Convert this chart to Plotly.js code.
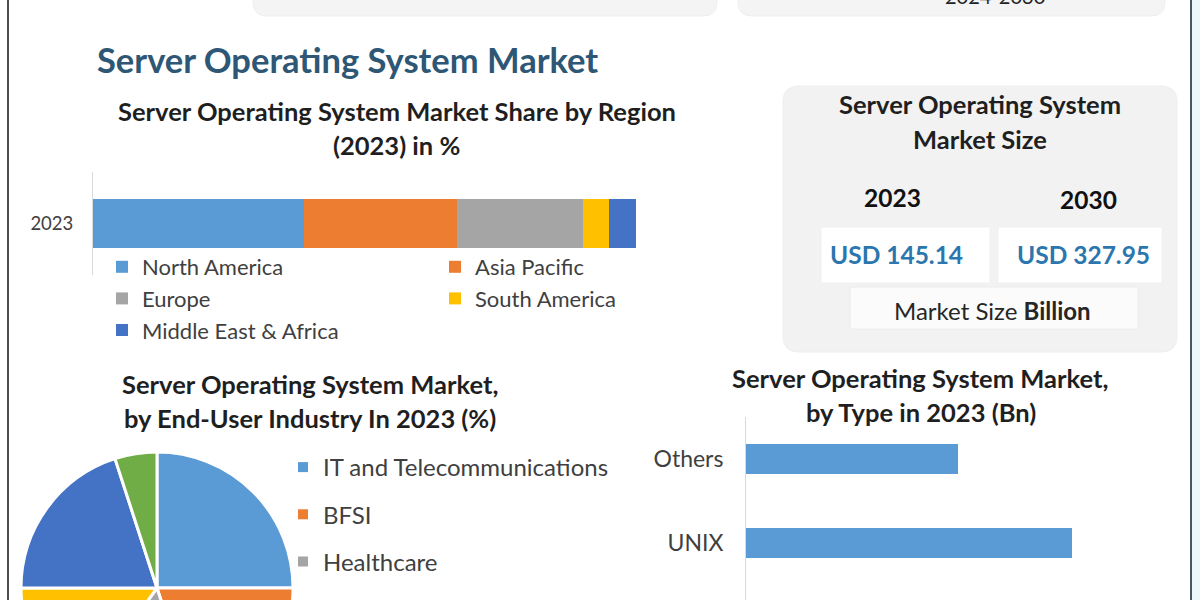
<!DOCTYPE html>
<html>
<head>
<meta charset="utf-8">
<script src="https://cdn.plot.ly/plotly-3.0.1.min.js"></script>
<style>
html,body{margin:0;padding:0;background:#fff;overflow:hidden;}
#wrap{position:relative;width:1200px;height:600px;overflow:hidden;}
#plot{position:absolute;left:0;top:-60px;width:1200px;height:900px;}
</style>
</head>
<body>
<div id="wrap"><div id="plot"></div></div>
<script>
// ---------------- data ----------------
const regionYear = ['2023'];
const regions = ['North America', 'Asia Pacific', 'Europe', 'South America', 'Middle East & Africa'];
const regionShare = [38.9, 28.2, 23.2, 4.8, 4.9];

const industries = ['IT and Telecommunications', 'BFSI', 'Healthcare', 'Government', 'Retail', 'Others'];
const industryShare = [25, 20, 15, 15, 20, 5];

const osTypes = ['Others', 'UNIX', 'Linux', 'Windows'];
const osValues = [27.6, 42.5, 35.04, 40.0];

const marketYears = ['2023', '2030'];
const marketSize = [145.14, 327.95];
const forecastPeriod = '2024-2030';

// ---------------- styles ----------------
const regionColors = ['#5B9BD5', '#ED7D31', '#A5A5A5', '#FFC000', '#4472C4'];
const regionLegend = ['legend', 'legend2', 'legend', 'legend2', 'legend'];
const industryColors = ['#5B9BD5', '#ED7D31', '#A5A5A5', '#FFC000', '#4472C4', '#70AD47'];
const FONT = 'Lato, "Liberation Sans", sans-serif';

// page-pixel -> paper helpers (plot div is 900px tall, shifted up 60px)
const T = 60, W = 1200, H = 900;
const px = x => x / W;
const py = y => 1 - (y + T) / H;

function rr(x0, y0, x1, y1, r) {
  const X = px, Y = py;
  return `M${X(x0 + r)},${Y(y0)} L${X(x1 - r)},${Y(y0)} Q${X(x1)},${Y(y0)} ${X(x1)},${Y(y0 + r)} ` +
         `L${X(x1)},${Y(y1 - r)} Q${X(x1)},${Y(y1)} ${X(x1 - r)},${Y(y1)} ` +
         `L${X(x0 + r)},${Y(y1)} Q${X(x0)},${Y(y1)} ${X(x0)},${Y(y1 - r)} ` +
         `L${X(x0)},${Y(y0 + r)} Q${X(x0)},${Y(y0)} ${X(x0 + r)},${Y(y0)} Z`;
}
function ann(text, x, y, size, color, bold, xanchor) {
  return {
    text: bold ? '<b>' + text + '</b>' : text,
    x: px(x), y: py(y), xref: 'paper', yref: 'paper',
    xanchor: xanchor || 'center', yanchor: 'middle', showarrow: false,
    font: {family: FONT, size: size, color: color}
  };
}

// ---------------- traces ----------------
const traces = [];
regions.forEach((r, i) => {
  traces.push({
    type: 'bar', orientation: 'h',
    x: [regionShare[i]], y: regionYear,
    name: r, xaxis: 'x', yaxis: 'y',
    width: 0.485,
    marker: {color: regionColors[i]},
    legend: regionLegend[i],
    hovertemplate: r + ': %{x}%<extra></extra>'
  });
});

traces.push({
  type: 'pie',
  labels: industries, values: industryShare,
  sort: false, direction: 'clockwise', rotation: 0,
  textinfo: 'none',
  marker: {colors: industryColors, line: {color: '#ffffff', width: 3}},
  domain: {x: [px(21), px(293)], y: [py(724), py(452)]},
  showlegend: false
});

// legend entries for the pie (one group per slice for spacing)
industries.forEach((name, i) => {
  traces.push({
    type: 'scatter', mode: 'markers',
    x: [null], y: [null], xaxis: 'x', yaxis: 'y',
    name: name,
    marker: {symbol: 'square', size: 10, color: industryColors[i]},
    legend: 'legend3', legendgroup: 'ind' + i,
    hoverinfo: 'skip'
  });
});

traces.push({
  type: 'bar', orientation: 'h',
  x: osValues, y: osTypes,
  xaxis: 'x2', yaxis: 'y2',
  width: 0.357,
  marker: {color: '#5B9BD5'},
  showlegend: false,
  hovertemplate: '%{y}: %{x} Bn<extra></extra>'
});

// ---------------- layout ----------------
const legendFont = {family: FONT, size: 22, color: '#404040'};
const pieLegendFont = {family: FONT, size: 24, color: '#404040'};
const layout = {
  width: W, height: H,
  margin: {l: 0, r: 0, t: 0, b: 0},
  paper_bgcolor: '#ffffff', plot_bgcolor: 'rgba(0,0,0,0)',
  barmode: 'stack',
  font: {family: FONT},
  xaxis: {domain: [px(93), px(636)], range: [0, 100], visible: false, anchor: 'y', fixedrange: true},
  yaxis: {
    domain: [py(275), py(172)], type: 'category', range: [-0.5, 0.5],
    showline: true, linecolor: '#d9d9d9', linewidth: 1,
    ticks: '', showgrid: false, zeroline: false, anchor: 'x', fixedrange: true,
    tickfont: {family: FONT, size: 18.5, color: '#404040'}, ticklabelstandoff: 15
  },
  xaxis2: {domain: [px(746), px(1180)], range: [0, 56.5], visible: false, anchor: 'y2', fixedrange: true},
  yaxis2: {
    domain: [py(753), py(417)], type: 'category',
    categoryorder: 'array', categoryarray: osTypes, range: [3.5, -0.5],
    showline: true, linecolor: '#d9d9d9', linewidth: 1,
    ticks: '', showgrid: false, zeroline: false, anchor: 'x2', fixedrange: true,
    tickfont: {family: FONT, size: 23, color: '#404040'}, ticklabelstandoff: 17
  },
  legend: {x: px(102), y: py(246), xanchor: 'left', yanchor: 'top', orientation: 'v',
           traceorder: 'normal', bgcolor: 'rgba(0,0,0,0)', font: legendFont},
  legend2: {x: px(435), y: py(246), xanchor: 'left', yanchor: 'top', orientation: 'v',
            traceorder: 'normal', bgcolor: 'rgba(0,0,0,0)', font: legendFont},
  legend3: {x: px(283), y: py(445), xanchor: 'left', yanchor: 'top', orientation: 'v',
            traceorder: 'grouped', tracegroupgap: 13,
            bgcolor: 'rgba(0,0,0,0)', font: pieLegendFont},
  shapes: [
    // top (cut-off) info boxes
    {type: 'path', path: rr(253, -40, 717, 16, 14), xref: 'paper', yref: 'paper',
     fillcolor: '#f4f4f4', line: {color: '#efefef', width: 1}, layer: 'below'},
    {type: 'path', path: rr(738, -40, 1165, 16, 14), xref: 'paper', yref: 'paper',
     fillcolor: '#f4f4f4', line: {color: '#efefef', width: 1}, layer: 'below'},
    // market size panel
    {type: 'path', path: rr(783, 86, 1177, 352, 16), xref: 'paper', yref: 'paper',
     fillcolor: '#f2f2f2', line: {color: '#eeeeee', width: 1}, layer: 'below'},
    {type: 'rect', x0: px(821), x1: px(990), y0: py(283), y1: py(227), xref: 'paper', yref: 'paper',
     fillcolor: '#ffffff', line: {color: '#f0f0f0', width: 1}, layer: 'below'},
    {type: 'rect', x0: px(998), x1: px(1162), y0: py(283), y1: py(227), xref: 'paper', yref: 'paper',
     fillcolor: '#ffffff', line: {color: '#f0f0f0', width: 1}, layer: 'below'},
    {type: 'rect', x0: px(850), x1: px(1138), y0: py(329), y1: py(287), xref: 'paper', yref: 'paper',
     fillcolor: '#fbfbfb', line: {color: '#ececec', width: 1}, layer: 'below'},
    // frame lines
    {type: 'rect', x0: px(1192), x1: px(1200), y0: py(840), y1: py(-60), xref: 'paper', yref: 'paper',
     fillcolor: '#eef7fa', line: {width: 0}, layer: 'below'},
    {type: 'line', x0: px(8), x1: px(8), y0: py(840), y1: py(-60), xref: 'paper', yref: 'paper',
     line: {color: '#4d4d4d', width: 2}},
    {type: 'line', x0: px(1191), x1: px(1191), y0: py(840), y1: py(-60), xref: 'paper', yref: 'paper',
     line: {color: '#4a5860', width: 2}}
  ],
  annotations: [
    ann(forecastPeriod, 995, -4, 20, '#222222', false),
    ann('Server Operating System Market', 95, 60, 34.5, '#2E5675', true, 'left'),
    ann('Server Operating System Market Share by Region', 397, 111, 25.5, '#1f1f1f', true),
    ann('(2023) in %', 396, 145, 25.5, '#1f1f1f', true),
    ann('Server Operating System', 980, 104, 25.5, '#1f1f1f', true),
    ann('Market Size', 980, 139, 25.5, '#1f1f1f', true),
    ann(marketYears[0], 892, 197, 24.5, '#111111', true),
    ann(marketYears[1], 1088, 199, 24.5, '#111111', true),
    ann('USD ' + marketSize[0].toFixed(2), 896, 254, 24.5, '#2B76AE', true),
    ann('USD ' + marketSize[1].toFixed(2), 1083, 254, 24.5, '#2B76AE', true),
    ann('Market Size <b>Billion</b>', 992, 310, 24, '#262626', false),
    ann('Server Operating System Market,', 310, 384, 25.5, '#1f1f1f', true),
    ann('by End-User Industry In 2023 (%)', 310, 418, 25.5, '#1f1f1f', true),
    ann('Server Operating System Market,', 920, 378, 25.5, '#1f1f1f', true),
    ann('by Type in 2023 (Bn)', 921, 412, 25.5, '#1f1f1f', true)
  ]
};

Plotly.newPlot('plot', traces, layout, {displayModeBar: false, responsive: false});
</script>
</body>
</html>
